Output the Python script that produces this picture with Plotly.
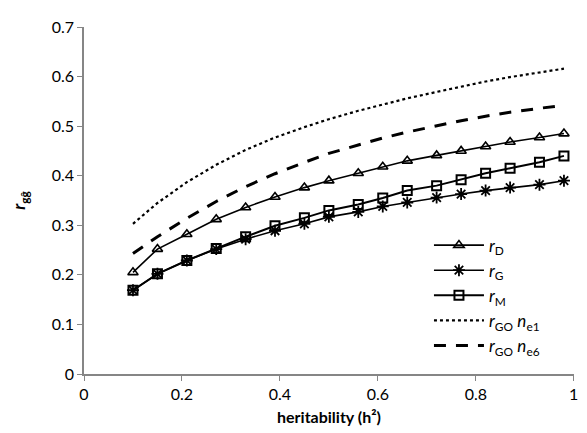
import plotly.graph_objects as go

h2 = [0.10, 0.15, 0.21, 0.27, 0.33, 0.39, 0.45, 0.50, 0.56, 0.61, 0.66, 0.72, 0.77, 0.82, 0.87, 0.93, 0.98]

r_D = [0.205, 0.252, 0.282, 0.312, 0.336, 0.357, 0.376, 0.390, 0.405, 0.418, 0.430, 0.441, 0.450, 0.459, 0.468, 0.477, 0.485]
r_G = [0.169, 0.202, 0.229, 0.252, 0.272, 0.289, 0.303, 0.317, 0.327, 0.338, 0.346, 0.356, 0.363, 0.370, 0.376, 0.382, 0.390]
r_M = [0.169, 0.202, 0.229, 0.253, 0.277, 0.299, 0.315, 0.330, 0.342, 0.355, 0.370, 0.380, 0.392, 0.405, 0.415, 0.427, 0.440]
r_GO_ne1 = [0.303, 0.345, 0.387, 0.422, 0.452, 0.477, 0.498, 0.514, 0.531, 0.544, 0.556, 0.569, 0.580, 0.590, 0.599, 0.609, 0.616]
r_GO_ne6 = [0.243, 0.277, 0.314, 0.348, 0.378, 0.404, 0.427, 0.445, 0.462, 0.476, 0.488, 0.501, 0.511, 0.520, 0.528, 0.536, 0.542]

x_ticks = [0, 0.2, 0.4, 0.6, 0.8, 1]
x_ticklabels = ["0", "0.2", "0.4", "0.6", "0.8", "1"]
y_ticks = [0, 0.1, 0.2, 0.3, 0.4, 0.5, 0.6, 0.7]
y_ticklabels = ["0", "0.1", "0.2", "0.3", "0.4", "0.5", "0.6", "0.7"]

names = [
    "<i>r</i><sub>D</sub>",
    "<i>r</i><sub>G</sub>",
    "<i>r</i><sub>M</sub>",
    "<i>r</i><sub>GO</sub> <i>n</i><sub>e1</sub>",
    "<i>r</i><sub>GO</sub> <i>n</i><sub>e6</sub>",
]

FONT = "Lato, 'Open Sans', sans-serif"

fig = go.Figure()
fig.add_trace(go.Scatter(x=h2, y=r_D, name=names[0], mode="lines+markers",
                         line=dict(color="black", width=1.6),
                         marker=dict(symbol="triangle-up-open", size=9, color="black", line=dict(width=1.6))))
fig.add_trace(go.Scatter(x=h2, y=r_G, name=names[1], mode="lines+markers",
                         line=dict(color="black", width=1.6),
                         marker=dict(symbol="asterisk-open", size=10, color="black", line=dict(width=1.8))))
fig.add_trace(go.Scatter(x=h2, y=r_M, name=names[2], mode="lines+markers",
                         line=dict(color="black", width=2),
                         marker=dict(symbol="square-open", size=9, color="black", line=dict(width=2))))
fig.add_trace(go.Scatter(x=h2, y=r_GO_ne1, name=names[3], mode="lines",
                         line=dict(color="black", width=2.2, dash="dot")))
fig.add_trace(go.Scatter(x=h2, y=r_GO_ne6, name=names[4], mode="lines",
                         line=dict(color="black", width=3, dash="12px,10px")))

axis_common = dict(showgrid=False, zeroline=False, showline=True, linecolor="#868686", linewidth=1.5,
                   ticks="outside", tickcolor="#868686", ticklen=5, tickwidth=1.3,
                   tickfont=dict(family=FONT, size=16, color="black"))

# the page body has an 8px margin, so the figure is sized to fit the 587x433 window
fig.update_layout(
    width=579, height=425,
    margin=dict(l=76, r=9, t=14, b=52),
    paper_bgcolor="white", plot_bgcolor="white",
    font=dict(family=FONT, size=16, color="black"),
    xaxis=dict(range=[0, 1.0005], tickvals=x_ticks, ticktext=x_ticklabels,
               title=dict(text="<b>heritability (h²)</b>", font=dict(family=FONT, size=16), standoff=10),
               **axis_common),
    yaxis=dict(range=[0, 0.7], tickvals=y_ticks, ticktext=y_ticklabels,
               title=dict(text="<b><i>r</i><sub>gĝ</sub></b>", font=dict(family=FONT, size=17), standoff=23),
               **axis_common),
    legend=dict(x=0.704, y=0.422, xanchor="left", yanchor="top", bgcolor="rgba(0,0,0,0)",
                font=dict(family=FONT, size=17), tracegroupgap=0, itemwidth=50),
    showlegend=True,
)

fig.write_html("out.html")
